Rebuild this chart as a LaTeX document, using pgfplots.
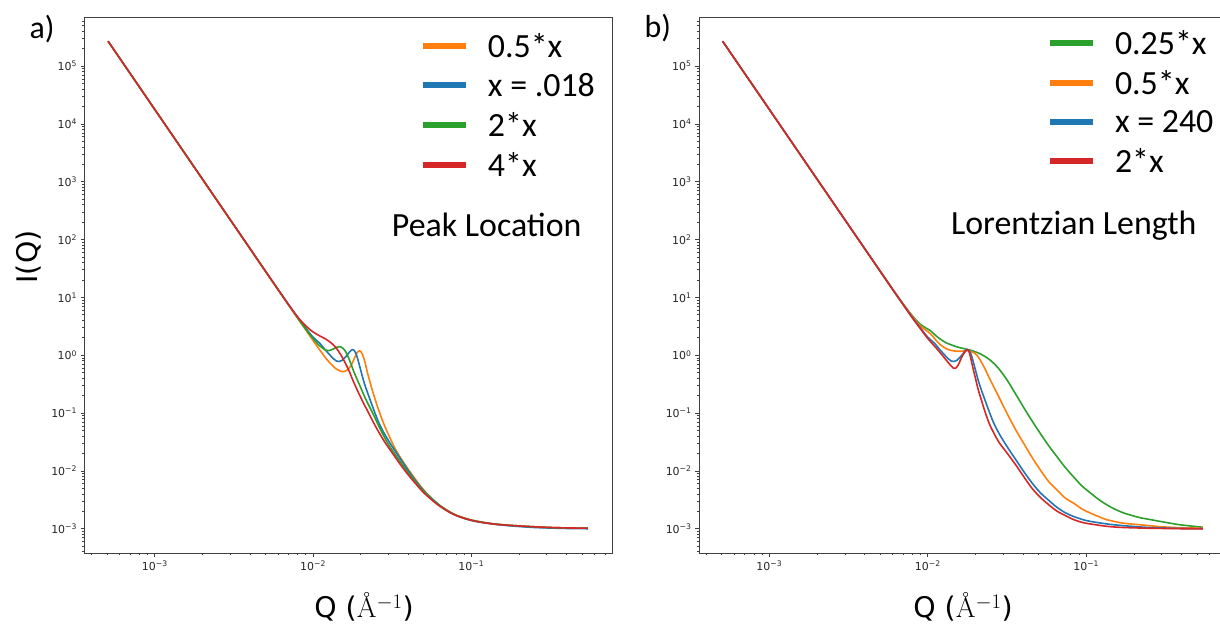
\documentclass[border=0pt]{standalone}
\usepackage{fontspec}
\setmainfont{DejaVu Sans}
\newfontfamily\calibri{Carlito}
\newfontfamily\lmr{Latin Modern Roman}
\usepackage{pgfplots}
\pgfplotsset{compat=1.18}
\definecolor{tabblue}{HTML}{1F77B4}
\definecolor{taborange}{HTML}{FF7F0E}
\definecolor{tabgreen}{HTML}{2CA02C}
\definecolor{tabred}{HTML}{D62728}
\begin{document}
\begin{tikzpicture}
% ---------------- panel a
\begin{axis}[xmode=log, ymode=log, scale only axis,
    width=527.5bp, height=535.5bp, at={(84.5bp,73bp)}, anchor=south west,
    xmin=3.597e-4, xmax=0.7745, ymin=3.802e-4, ymax=6.918e5,
    axis line style={black!75, line width=0.8bp},
    tick align=outside, tick pos=left,
    major tick length=4bp, minor tick length=2.5bp,
    tick style={black!75, line width=0.7bp},
    xtick={1e-3,1e-2,1e-1},
    xticklabels={10\textsuperscript{−3},10\textsuperscript{−2},10\textsuperscript{−1}},
    minor xtick={4e-4,5e-4,6e-4,7e-4,8e-4,9e-4,2e-3,3e-3,4e-3,5e-3,6e-3,7e-3,8e-3,9e-3,2e-2,3e-2,4e-2,5e-2,6e-2,7e-2,8e-2,9e-2,0.2,0.3,0.4,0.5,0.6,0.7},
    ytick={1e-3,1e-2,1e-1,1,10,100,1000,1e4,1e5},
    yticklabels={10\textsuperscript{−3},10\textsuperscript{−2},10\textsuperscript{−1},10\textsuperscript{0},10\textsuperscript{1},10\textsuperscript{2},10\textsuperscript{3},10\textsuperscript{4},10\textsuperscript{5}},
    minor ytick={4e-4,5e-4,6e-4,7e-4,8e-4,9e-4,2e-3,3e-3,4e-3,5e-3,6e-3,7e-3,8e-3,9e-3,2e-2,3e-2,4e-2,5e-2,6e-2,7e-2,8e-2,9e-2,0.2,0.3,0.4,0.5,0.6,0.7,0.8,0.9,2,3,4,5,6,7,8,9,20,30,40,50,60,70,80,90,200,300,400,500,600,700,800,900,2000,3000,4000,5000,6000,7000,8000,9000,2e4,3e4,4e4,5e4,6e4,7e4,8e4,9e4,2e5,3e5,4e5,5e5,6e5},
    tick label style={font=\fontsize{11}{13}\selectfont, text=black!85},
    legend style={draw=none, fill=none, inner sep=0pt, outer sep=0pt, row sep=10.5bp, column sep=17bp,
      font=\calibri\fontsize{34}{34}\selectfont,
      at={(0.6360,0.9748)}, anchor=north west},
    legend cell align=left,
    legend image code/.code={\draw[#1, line width=6bp] (0bp,0bp) -- (43bp,0bp);},
  ]
\addlegendimage{taborange}\addlegendentry{0.5*x}
\addlegendimage{tabblue}\addlegendentry{x = .018}
\addlegendimage{tabgreen}\addlegendentry{2*x}
\addlegendimage{tabred}\addlegendentry{4*x}
\addplot[taborange, line width=1.6bp, smooth, forget plot] coordinates {(5.07e-4,2.69e5)(1e-3,1.778e4)(2e-3,1111)(4e-3,69.5)(6e-3,13.72)(7e-3,7.42)(8e-3,4.35)(9e-3,2.73)(0.010,1.80)(0.011,1.245)(0.012,0.90)(0.013,0.70)(0.014,0.58)(0.015,0.53)(0.0155,0.52)(0.016,0.53)(0.0165,0.56)(0.017,0.61)(0.0175,0.69)(0.018,0.81)(0.0185,0.962)(0.019,1.107)(0.0193,1.16)(0.0197,1.19)(0.0201,1.15)(0.0205,1.04)(0.021,0.862)(0.0215,0.68)(0.022,0.517)(0.023,0.329)(0.024,0.221)(0.025,0.155)(0.026,0.112)(0.028,0.065)(0.030,0.042)(0.033,0.0243)(0.036,0.0163)(0.040,0.0106)(0.045,0.0068)(0.050,0.0047)(0.060,0.00282)(0.070,0.0021)(0.080,0.00172)(0.100,0.00141)(0.130,0.00124)(0.170,0.00115)(0.250,0.00108)(0.350,0.00104)(0.546,0.00102)};
\addplot[tabblue, line width=1.6bp, smooth, forget plot] coordinates {(5.07e-4,2.69e5)(1e-3,1.778e4)(2e-3,1111)(4e-3,69.5)(6e-3,13.75)(7e-3,7.5)(8e-3,4.5)(9e-3,2.95)(0.010,2.05)(0.011,1.62)(0.012,1.22)(0.013,0.96)(0.0136,0.85)(0.0141,0.79)(0.0146,0.78)(0.0152,0.81)(0.0158,0.89)(0.0164,1.00)(0.0170,1.14)(0.0175,1.23)(0.0178,1.25)(0.0182,1.21)(0.0186,1.10)(0.0190,0.93)(0.0195,0.72)(0.0202,0.50)(0.021,0.34)(0.0218,0.25)(0.0226,0.19)(0.0243,0.11)(0.0261,0.067)(0.0285,0.042)(0.0316,0.0265)(0.036,0.0155)(0.0403,0.0098)(0.0455,0.0062)(0.0513,0.0042)(0.058,0.0031)(0.0653,0.00235)(0.074,0.00188)(0.0832,0.00163)(0.095,0.00144)(0.106,0.00134)(0.135,0.00121)(0.171,0.00113)(0.25,0.00105)(0.4,0.00101)(0.546,0.00100)};
\addplot[tabgreen, line width=1.6bp, smooth, forget plot] coordinates {(5.07e-4,2.69e5)(1e-3,1.778e4)(2e-3,1111)(4e-3,69.5)(6e-3,13.75)(7e-3,7.47)(8e-3,4.42)(9e-3,2.82)(0.010,1.945)(0.011,1.457)(0.012,1.228)(0.0125,1.199)(0.013,1.234)(0.0135,1.29)(0.014,1.36)(0.0145,1.40)(0.0150,1.39)(0.0155,1.31)(0.016,1.18)(0.0165,1.0)(0.017,0.824)(0.0175,0.67)(0.018,0.54)(0.019,0.38)(0.020,0.277)(0.021,0.202)(0.022,0.154)(0.024,0.0956)(0.026,0.060)(0.028,0.040)(0.030,0.0285)(0.033,0.0193)(0.036,0.0138)(0.040,0.0092)(0.045,0.0061)(0.050,0.0044)(0.060,0.0028)(0.070,0.0021)(0.080,0.00171)(0.1,0.00141)(0.13,0.00124)(0.17,0.00115)(0.25,0.00108)(0.35,0.00104)(0.546,0.00102)};
\addplot[tabred, line width=1.6bp, smooth, forget plot] coordinates {(5.07e-4,2.69e5)(1e-3,1.778e4)(2e-3,1111)(4e-3,69.6)(5e-3,28.5)(6e-3,13.8)(7e-3,7.53)(8e-3,4.59)(9e-3,3.21)(0.010,2.53)(0.011,2.165)(0.012,1.91)(0.013,1.64)(0.014,1.34)(0.015,1.01)(0.016,0.73)(0.017,0.514)(0.018,0.35)(0.019,0.252)(0.020,0.187)(0.021,0.142)(0.022,0.112)(0.024,0.070)(0.026,0.047)(0.028,0.0335)(0.030,0.0252)(0.033,0.0174)(0.036,0.0124)(0.040,0.0085)(0.045,0.0058)(0.050,0.0042)(0.060,0.00272)(0.070,0.00205)(0.080,0.0017)(0.1,0.0014)(0.13,0.00123)(0.17,0.00115)(0.25,0.00108)(0.35,0.00104)(0.546,0.00102)};
\end{axis}
% ---------------- panel b
\begin{axis}[xmode=log, ymode=log, scale only axis,
    width=528bp, height=535.5bp, at={(699bp,73bp)}, anchor=south west,
    xmin=3.597e-4, xmax=0.7745, ymin=3.802e-4, ymax=6.918e5,
    axis line style={black!75, line width=0.8bp},
    tick align=outside, tick pos=left,
    major tick length=4bp, minor tick length=2.5bp,
    tick style={black!75, line width=0.7bp},
    xtick={1e-3,1e-2,1e-1},
    xticklabels={10\textsuperscript{−3},10\textsuperscript{−2},10\textsuperscript{−1}},
    minor xtick={4e-4,5e-4,6e-4,7e-4,8e-4,9e-4,2e-3,3e-3,4e-3,5e-3,6e-3,7e-3,8e-3,9e-3,2e-2,3e-2,4e-2,5e-2,6e-2,7e-2,8e-2,9e-2,0.2,0.3,0.4,0.5,0.6,0.7},
    ytick={1e-3,1e-2,1e-1,1,10,100,1000,1e4,1e5},
    yticklabels={10\textsuperscript{−3},10\textsuperscript{−2},10\textsuperscript{−1},10\textsuperscript{0},10\textsuperscript{1},10\textsuperscript{2},10\textsuperscript{3},10\textsuperscript{4},10\textsuperscript{5}},
    minor ytick={4e-4,5e-4,6e-4,7e-4,8e-4,9e-4,2e-3,3e-3,4e-3,5e-3,6e-3,7e-3,8e-3,9e-3,2e-2,3e-2,4e-2,5e-2,6e-2,7e-2,8e-2,9e-2,0.2,0.3,0.4,0.5,0.6,0.7,0.8,0.9,2,3,4,5,6,7,8,9,20,30,40,50,60,70,80,90,200,300,400,500,600,700,800,900,2000,3000,4000,5000,6000,7000,8000,9000,2e4,3e4,4e4,5e4,6e4,7e4,8e4,9e4,2e5,3e5,4e5,5e5,6e5},
    tick label style={font=\fontsize{11}{13}\selectfont, text=black!85},
    legend style={draw=none, fill=none, inner sep=0pt, outer sep=0pt, row sep=10.5bp, column sep=17bp,
      font=\calibri\fontsize{34}{34}\selectfont,
      at={(0.6591,0.9804)}, anchor=north west},
    legend cell align=left,
    legend image code/.code={\draw[#1, line width=6bp] (0bp,0bp) -- (43bp,0bp);},
  ]
\addlegendimage{tabgreen}\addlegendentry{0.25*x}
\addlegendimage{taborange}\addlegendentry{0.5*x}
\addlegendimage{tabblue}\addlegendentry{x = 240}
\addlegendimage{tabred}\addlegendentry{2*x}
\addplot[tabgreen, line width=1.6bp, smooth, forget plot] coordinates {(5.07e-4,2.69e5)(1e-3,1.778e4)(2e-3,1111)(4e-3,69.7)(6e-3,13.9)(7e-3,7.7)(8e-3,4.8)(9e-3,3.4)(0.0104,2.65)(0.0112,2.2)(0.0120,1.9)(0.0132,1.62)(0.0155,1.38)(0.0186,1.22)(0.0215,1.054)(0.0248,0.82)(0.028,0.59)(0.0317,0.371)(0.0357,0.218)(0.0401,0.128)(0.0453,0.0748)(0.0511,0.0452)(0.058,0.0272)(0.0653,0.0177)(0.0735,0.0116)(0.0828,0.0080)(0.094,0.0055)(0.106,0.00418)(0.12,0.0032)(0.135,0.00259)(0.151,0.00219)(0.171,0.00189)(0.195,0.00169)(0.219,0.00155)(0.25,0.00145)(0.292,0.00134)(0.391,0.00117)(0.546,0.00106)};
\addplot[taborange, line width=1.6bp, smooth, forget plot] coordinates {(5.07e-4,2.69e5)(1e-3,1.778e4)(2e-3,1111)(4e-3,69.6)(6e-3,13.8)(7e-3,7.6)(8e-3,4.65)(9e-3,3.2)(0.0104,2.35)(0.0112,1.85)(0.0120,1.52)(0.0132,1.28)(0.0145,1.19)(0.016,1.17)(0.0170,1.19)(0.0178,1.2)(0.019,1.14)(0.02046,1.0)(0.0225,0.65)(0.02483,0.371)(0.028,0.194)(0.03163,0.0988)(0.0357,0.0528)(0.0403,0.030)(0.0455,0.0172)(0.0513,0.0104)(0.058,0.00653)(0.0653,0.0047)(0.074,0.00337)(0.0832,0.00277)(0.094,0.0022)(0.106,0.00187)(0.12,0.00162)(0.135,0.00143)(0.171,0.00125)(0.219,0.00117)(0.3,0.00108)(0.4,0.00104)(0.546,0.00102)};
\addplot[tabblue, line width=1.6bp, smooth, forget plot] coordinates {(5.07e-4,2.69e5)(1e-3,1.778e4)(2e-3,1111)(4e-3,69.5)(6e-3,13.75)(7e-3,7.5)(8e-3,4.5)(9e-3,2.95)(0.010,2.05)(0.011,1.62)(0.012,1.22)(0.013,0.96)(0.0136,0.85)(0.0141,0.79)(0.0146,0.78)(0.0152,0.81)(0.0158,0.89)(0.0164,1.00)(0.0170,1.14)(0.0175,1.23)(0.0178,1.25)(0.0182,1.21)(0.0186,1.10)(0.0190,0.93)(0.0195,0.72)(0.0202,0.50)(0.021,0.34)(0.0218,0.25)(0.0226,0.19)(0.0243,0.11)(0.0261,0.067)(0.0285,0.042)(0.0316,0.0265)(0.036,0.0155)(0.0403,0.0098)(0.0455,0.0062)(0.0513,0.0042)(0.058,0.0031)(0.0653,0.00235)(0.074,0.00188)(0.0832,0.00163)(0.095,0.00144)(0.106,0.00134)(0.135,0.00121)(0.171,0.00113)(0.25,0.00105)(0.4,0.00101)(0.546,0.00100)};
\addplot[tabred, line width=1.6bp, smooth, forget plot] coordinates {(5.07e-4,2.69e5)(1e-3,1.778e4)(2e-3,1111)(4e-3,69.5)(6e-3,13.72)(7e-3,7.45)(8e-3,4.4)(9e-3,2.85)(0.010,1.95)(0.011,1.45)(0.012,1.10)(0.013,0.84)(0.0138,0.69)(0.0145,0.60)(0.0150,0.60)(0.0155,0.66)(0.0160,0.80)(0.0165,0.96)(0.0170,1.10)(0.0175,1.21)(0.0178,1.25)(0.0181,1.20)(0.0184,1.05)(0.0187,0.88)(0.0190,0.72)(0.0195,0.53)(0.0200,0.40)(0.0207,0.27)(0.0215,0.19)(0.0230,0.105)(0.0248,0.060)(0.028,0.032)(0.0316,0.0205)(0.036,0.0126)(0.0403,0.0080)(0.0455,0.0050)(0.0513,0.0035)(0.058,0.0026)(0.0653,0.00202)(0.074,0.00168)(0.0832,0.00144)(0.095,0.00128)(0.106,0.00121)(0.135,0.00110)(0.171,0.00105)(0.25,0.00102)(0.4,0.00100)(0.546,0.00100)};
\end{axis}
% ---------------- annotations
\node[anchor=base west, font=\calibri\fontsize{32}{34}\selectfont] at (26bp,587.5bp) {a)};
\node[anchor=base west, font=\calibri\fontsize{32}{34}\selectfont] at (641bp,588.5bp) {b)};
\node[anchor=base east, font=\calibri\fontsize{34}{36}\selectfont] at (585bp,389bp) {Peak Location};
\node[anchor=base east, font=\calibri\fontsize{34}{36}\selectfont] at (1200bp,391bp) {Lorentzian Length};
\node[rotate=90, anchor=center, font=\fontsize{28.5}{30}\selectfont] at (29bp,369bp) {I(Q)};
\node[anchor=base, font=\fontsize{28.5}{30}\selectfont] at (364bp,8.5bp) {Q ({\lmr Å}\(^{-1}\))};
\node[anchor=base, font=\fontsize{28.5}{30}\selectfont] at (963bp,8.5bp) {Q ({\lmr Å}\(^{-1}\))};
\pgfresetboundingbox
\useasboundingbox (0,0) rectangle (1220bp,626bp);
\end{tikzpicture}
\end{document}
